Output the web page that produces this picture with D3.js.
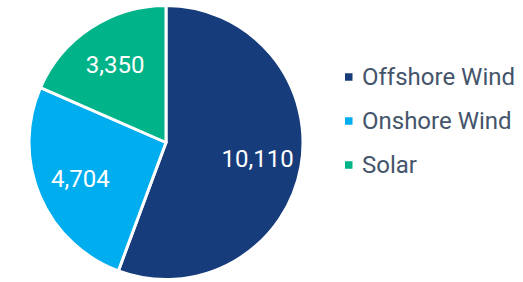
<!DOCTYPE html>
<html>
<head>
<meta charset="utf-8">
<script src="https://cdn.jsdelivr.net/npm/d3@7"></script>
<style>
  body { margin: 0; background: #fff; }
  svg text { font-family: Roboto, "Liberation Sans", sans-serif; }
</style>
</head>
<body>
<div id="viz"></div>
<script>
const categories = ['Offshore Wind', 'Onshore Wind', 'Solar'],
    values = [10110, 4704, 3350],
    colours = ['#173c7b', '#00adee', '#00b388'];

const width = 523,
    height = 282,
    cx = 166,
    cy = 142.5,
    radius = 137,
    labelRadius = 93;

const svg = d3.select('#viz')
    .append('svg')
    .attr('width', width)
    .attr('height', height);

const pie = d3.pie().sort(null).value(d => d.value);
const data = pie(categories.map((c, i) => ({name: c, value: values[i], colour: colours[i]})));

const arc = d3.arc().innerRadius(0).outerRadius(radius);
const labelArc = d3.arc().innerRadius(labelRadius).outerRadius(labelRadius);

const g = svg.append('g').attr('transform', 'translate(' + cx + ',' + cy + ')');

g.selectAll('path')
    .data(data)
    .enter().append('path')
    .attr('d', arc)
    .attr('fill', d => d.data.colour)
    .attr('stroke', '#fff')
    .attr('stroke-width', 3)
    .attr('stroke-linejoin', 'round');

g.selectAll('text')
    .data(data)
    .enter().append('text')
    .attr('transform', d => 'translate(' + labelArc.centroid(d) + ')')
    .attr('text-anchor', 'middle')
    .attr('dy', '0.35em')
    .attr('fill', '#fff')
    .style('font-size', '24px')
    .text(d => d3.format(',')(d.data.value));

// legend
const legendY = d3.scalePoint().domain(categories).range([77, 165]);

const legend = svg.append('g')
    .selectAll('g')
    .data(data)
    .enter().append('g')
    .attr('transform', d => 'translate(345,' + legendY(d.data.name) + ')');

legend.append('rect')
    .attr('x', 0)
    .attr('y', -3.75)
    .attr('width', 7.5)
    .attr('height', 7.5)
    .attr('fill', d => d.data.colour);

legend.append('text')
    .attr('x', 17)
    .attr('dy', '0.35em')
    .attr('fill', '#44546a')
    .style('font-size', '24px')
    .text(d => d.data.name);
</script>
</body>
</html>
